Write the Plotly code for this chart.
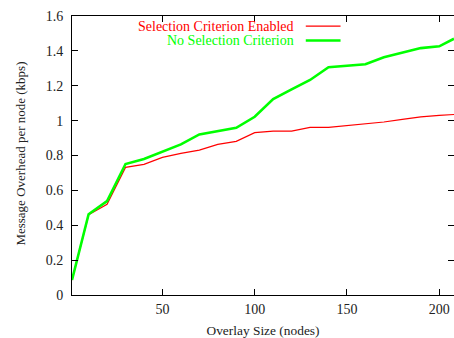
import plotly.graph_objects as go

# Overlay size (nodes)
overlay_size = [1, 10, 20, 30, 40, 50, 60, 70, 80, 90, 100, 110, 120, 130, 140,
                150, 160, 170, 180, 190, 200, 208]

# Message overhead per node (kbps)
selection_enabled = [0.086, 0.46, 0.52, 0.732, 0.749, 0.789, 0.812, 0.831, 0.864,
                     0.881, 0.931, 0.94, 0.94, 0.961, 0.961, 0.971, 0.98, 0.992,
                     1.007, 1.022, 1.03, 1.035]
no_selection = [0.086, 0.463, 0.539, 0.751, 0.78, 0.822, 0.864, 0.921, 0.94,
                0.959, 1.022, 1.124, 1.179, 1.233, 1.306, 1.315, 1.323, 1.363,
                1.39, 1.416, 1.426, 1.47]

series_names = ["Selection Criterion Enabled", "No Selection Criterion"]
series_colors = ["#ff0000", "#00ff00"]
series_widths = [1.2, 2.6]

FONT = "Times New Roman"
TEXT = "#222"

fig = go.Figure()
for name, ys, color, width in zip(series_names, [selection_enabled, no_selection],
                                  series_colors, series_widths):
    fig.add_trace(go.Scatter(x=overlay_size, y=ys, mode="lines", name=name,
                             line=dict(color=color, width=width),
                             showlegend=False))

# Key: right-aligned text followed by a line sample
key_y = [0.964, 0.912]
for name, color, width, ky in zip(series_names, series_colors, series_widths, key_y):
    fig.add_annotation(x=0.586, y=ky, xref="paper", yref="paper", text=name,
                       showarrow=False, xanchor="right", yanchor="middle",
                       font=dict(family=FONT, size=14, color=color))
    fig.add_shape(type="line", xref="paper", yref="paper",
                  x0=0.612, x1=0.703, y0=ky, y1=ky,
                  line=dict(color=color, width=width))

fig.add_annotation(x=-0.136, y=0.507, xref="paper", yref="paper",
                   text="Message Overhead per node (kbps)", textangle=-90,
                   showarrow=False, xanchor="center", yanchor="middle",
                   font=dict(family=FONT, size=13, color=TEXT))

axis_common = dict(showline=True, linecolor="black", linewidth=1, mirror="ticks",
                   ticks="inside", ticklen=6, tickcolor="black", showgrid=False,
                   zeroline=False, tickfont=dict(family=FONT, size=14, color=TEXT))

fig.update_xaxes(range=[1, 208], tick0=0, dtick=50,
                 title=dict(text="Overlay Size (nodes)", standoff=9,
                            font=dict(family=FONT, size=13.4, color=TEXT)),
                 ticklabelstandoff=1, **axis_common)
fig.update_yaxes(range=[0, 1.6], tick0=0, dtick=0.2, ticklabelstandoff=5,
                 **axis_common)

fig.update_layout(width=454, height=338,
                  margin=dict(l=72, r=0, t=16, b=43),
                  paper_bgcolor="white", plot_bgcolor="white")

fig.write_html("out.html")
